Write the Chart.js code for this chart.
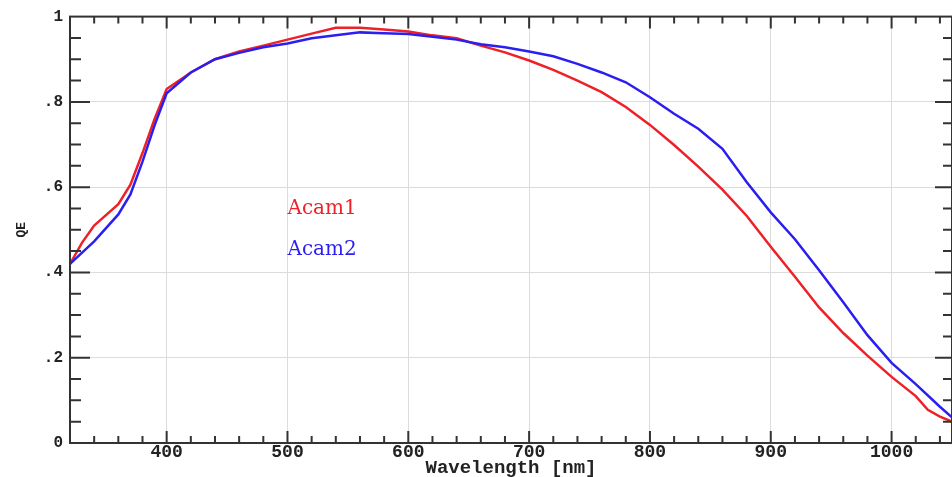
<!DOCTYPE html>
<html>
<head>
<meta charset="utf-8">
<script src="https://cdn.jsdelivr.net/npm/chart.js@4/dist/chart.umd.min.js"></script>
<style>
  html, body { margin: 0; padding: 0; background: #fff; }
  #wrap { width: 952px; height: 477px; }
</style>
</head>
<body>
<div id="wrap"><canvas id="qeChart"></canvas></div>
<script>
// Acam1 (red) and Acam2 (blue) quantum efficiency
const acam1Wavelengths = [320, 330, 340, 350, 360, 370, 380, 390, 400, 420, 440, 460, 480, 500, 520, 540, 560, 580, 600, 620, 640, 660, 680, 700, 720, 740, 760, 780, 800, 820, 840, 860, 880, 900, 920, 940, 960, 980, 1000, 1020, 1030, 1040, 1050];
const acam1QE = [0.42, 0.47, 0.51, 0.535, 0.56, 0.606, 0.68, 0.76, 0.83, 0.869, 0.90, 0.918, 0.932, 0.946, 0.960, 0.974, 0.974, 0.970, 0.965, 0.956, 0.949, 0.932, 0.916, 0.897, 0.875, 0.850, 0.823, 0.788, 0.746, 0.699, 0.648, 0.594, 0.533, 0.46, 0.39, 0.318, 0.258, 0.205, 0.155, 0.11, 0.078, 0.062, 0.05];

const acam2Wavelengths = [320, 340, 360, 370, 380, 390, 400, 420, 440, 460, 480, 500, 520, 540, 560, 580, 600, 620, 640, 660, 680, 700, 720, 740, 760, 780, 800, 820, 840, 860, 880, 900, 920, 940, 960, 980, 1000, 1020, 1040, 1050];
const acam2QE = [0.42, 0.473, 0.536, 0.583, 0.66, 0.745, 0.82, 0.869, 0.90, 0.915, 0.928, 0.937, 0.949, 0.956, 0.963, 0.961, 0.959, 0.953, 0.946, 0.935, 0.928, 0.918, 0.907, 0.889, 0.869, 0.846, 0.811, 0.772, 0.737, 0.69, 0.612, 0.541, 0.478, 0.405, 0.33, 0.253, 0.188, 0.138, 0.085, 0.06];

const seriesNames = ['Acam1', 'Acam2'];
const seriesColors = ['#ee2028', '#2a1ff0'];

const xMin = 320, xMax = 1050;
const yMin = 0, yMax = 1;

const toPoints = (xs, ys) => xs.map((x, i) => ({ x: x, y: ys[i] }));

// tick marks on all four sides, pointing inward (like the original plot)
const frameTicks = {
    id: 'frameTicks',
    afterDraw(chart) {
        const { ctx, chartArea: a, scales: { x, y } } = chart;
        ctx.save();
        ctx.strokeStyle = '#333';
        ctx.lineWidth = 2;

        for (let v = 340; v <= xMax; v += 20) {
            const px = x.getPixelForValue(v);
            const len = v % 100 === 0 ? 12 : 7;
            ctx.beginPath();
            ctx.moveTo(px, a.bottom); ctx.lineTo(px, a.bottom - len);
            ctx.moveTo(px, a.top); ctx.lineTo(px, a.top + len);
            ctx.stroke();
        }
        for (let k = 1; k < 20; k++) {
            const py = y.getPixelForValue(k * 0.05);
            const major = k % 4 === 0;
            ctx.beginPath();
            ctx.moveTo(a.left, py); ctx.lineTo(a.left + (major ? 20 : 11), py);
            ctx.moveTo(a.right, py); ctx.lineTo(a.right - (major ? 17 : 9), py);
            ctx.stroke();
        }
        ctx.strokeRect(a.left, a.top, a.right - a.left, a.bottom - a.top);

        // in-plot labels
        ctx.font = '20px "DejaVu Serif"';
        ctx.textBaseline = 'middle';
        ctx.textAlign = 'left';
        ctx.fillStyle = seriesColors[0];
        ctx.fillText(seriesNames[0], x.getPixelForValue(500), y.getPixelForValue(0.55));
        ctx.fillStyle = seriesColors[1];
        ctx.fillText(seriesNames[1], x.getPixelForValue(500), y.getPixelForValue(0.452));
        ctx.restore();
    }
};

new Chart(document.getElementById('qeChart'), {
    type: 'line',
    data: {
        datasets: [
            {
                label: seriesNames[1],
                data: toPoints(acam2Wavelengths, acam2QE),
                borderColor: seriesColors[1],
                borderWidth: 2.5,
                pointRadius: 0,
                tension: 0
            },
            {
                label: seriesNames[0],
                data: toPoints(acam1Wavelengths, acam1QE),
                borderColor: seriesColors[0],
                borderWidth: 2.5,
                pointRadius: 0,
                tension: 0
            }
        ]
    },
    options: {
        responsive: true,
        maintainAspectRatio: false,
        animation: false,
        layout: { padding: { top: 12, right: 0, bottom: 0, left: 0 } },
        plugins: {
            legend: { display: false },
            tooltip: { enabled: false }
        },
        scales: {
            x: {
                type: 'linear',
                min: xMin,
                max: xMax,
                afterFit: s => { s.height = 34; },
                ticks: {
                    stepSize: 100,
                    includeBounds: false,
                    padding: 0,
                    color: '#222',
                    font: { family: '"Liberation Mono"', size: 18, weight: 'bold', lineHeight: 1 },
                    maxRotation: 0,
                    callback: v => String(v)
                },
                grid: { color: '#dcdcdc', lineWidth: 1, drawTicks: false },
                border: { display: false },
                title: {
                    display: true,
                    text: 'Wavelength [nm]',
                    color: '#222',
                    font: { family: '"Liberation Mono"', size: 19, weight: 'bold', lineHeight: 1 },
                    padding: { top: 0, bottom: -1 }
                }
            },
            y: {
                type: 'linear',
                min: yMin,
                max: yMax,
                afterFit: s => { s.width = 70; },
                ticks: {
                    stepSize: 0.2,
                    padding: 7,
                    color: '#222',
                    font: { family: '"Liberation Mono"', size: 16, weight: 'bold' },
                    callback: v => {
                        const r = Math.round(v * 10);
                        if (r === 0) return '0';
                        if (r === 10) return '1';
                        return '.' + r;
                    }
                },
                grid: { color: '#dcdcdc', lineWidth: 1, drawTicks: false },
                border: { display: false },
                title: {
                    display: true,
                    text: 'QE',
                    color: '#222',
                    font: { family: '"Liberation Mono"', size: 13, weight: 'bold' },
                    padding: { top: 14, bottom: 0 }
                }
            }
        }
    },
    plugins: [frameTicks]
});
</script>
</body>
</html>
